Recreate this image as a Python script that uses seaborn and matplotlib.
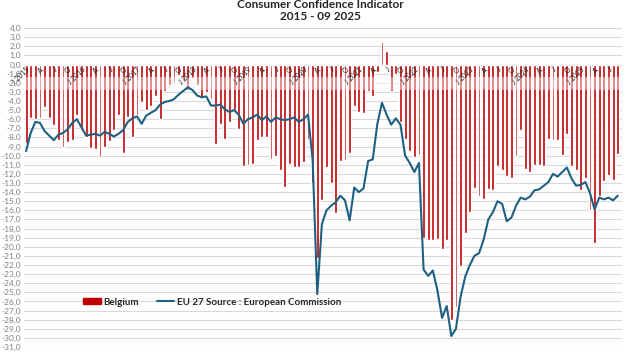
import numpy as np
import pandas as pd
import matplotlib
matplotlib.use("Agg")
import matplotlib.pyplot as plt
import seaborn as sns
from matplotlib.patches import Patch
from matplotlib.lines import Line2D

# Monthly series, Jan 2015 .. Sep 2025
months = pd.date_range("2015-01-01", "2025-09-01", freq="MS")

belgium = [
    -8.6, -5.9, -6.0, -5.9, -4.7, -5.9, -6.6, -8.3, -9.0, -8.5, -8.3, -5.5,
    -7.2, -8.0, -9.2, -9.3, -10.1, -9.0, -8.4, -7.2, -5.5, -9.7, -5.8, -8.0,
    -5.5, -4.1, -5.0, -4.5, -3.4, -6.0, -2.9, -2.3, -2.0, -1.2, -1.8, -2.8,
    -1.5, -2.3, -3.6, -3.0, -3.8, -8.7, -6.5, -8.2, -6.3, -5.0, -7.1, -11.1,
    -11.0, -10.9, -8.3, -8.0, -7.9, -10.4, -10.0, -11.6, -13.4, -10.9, -11.2, -11.3,
    -10.7, -8.2, -13.0, -21.2, -14.9, -11.2, -13.0, -16.3, -10.6, -10.5, -9.7, -4.6,
    -5.2, -5.3, -2.9, -3.4, -0.8, 2.5, 1.5, -2.9, -1.0, -6.3, -8.2, -9.5,
    -10.2, -9.9, -19.0, -19.3, -19.3, -19.2, -20.2, -19.3, -28.0, -26.6, -22.1, -18.5,
    -16.2, -13.5, -14.4, -14.8, -13.7, -13.8, -11.1, -11.6, -12.2, -12.4, -10.0, -7.2,
    -11.5, -11.8, -11.0, -11.0, -11.1, -8.2, -8.3, -8.3, -9.9, -7.6, -11.1, -11.6,
    -13.8, -12.5, -16.0, -19.6, -14.4, -12.8, -12.1, -12.7, -9.8,
]

eu27 = [
    -9.5, -7.5, -6.3, -6.4, -7.3, -7.8, -8.3, -7.7, -7.5, -7.1, -6.4, -6.0,
    -6.9, -7.8, -7.7, -7.6, -7.8, -7.4, -7.6, -7.9, -7.6, -7.2, -6.3, -5.9,
    -5.7, -6.5, -5.6, -5.3, -5.0, -4.4, -4.1, -4.0, -3.8, -3.3, -2.9, -2.5,
    -2.8, -3.4, -3.6, -3.5, -4.5, -4.5, -4.4, -4.9, -5.2, -5.0, -5.5, -6.5,
    -6.0, -5.8, -5.5, -6.1, -5.7, -6.3, -5.8, -6.0, -6.1, -6.0, -5.8, -6.3,
    -6.0, -5.5, -10.5, -25.2, -17.5, -16.0, -15.5, -15.1, -14.4, -14.9, -17.1, -13.5,
    -14.0, -13.6, -10.6, -10.4, -6.5, -4.2, -5.5, -6.6, -5.9, -6.6, -10.0, -10.8,
    -11.8, -10.8, -22.5, -23.2, -22.6, -24.8, -27.8, -26.5, -29.8, -29.0, -25.5, -23.3,
    -22.0, -21.0, -20.7, -19.2, -17.0, -16.2, -15.0, -15.3, -17.2, -16.8, -15.5, -14.6,
    -14.8, -14.5, -13.8, -13.7, -13.3, -12.9, -12.0, -12.3, -11.8, -11.3, -12.5, -13.3,
    -13.2, -12.9, -14.1, -15.9, -14.6, -14.8, -14.6, -14.9, -14.4,
]

month_letters = {1: "J", 4: "A", 7: "J", 10: "O"}

df = pd.DataFrame({"idx": np.arange(len(months)), "Belgium": belgium, "EU27": eu27})

RED = "#C00000"
BLUE = "#1F6082"

sns.set_style("white")
plt.rcParams["font.family"] = ["Lato", "DejaVu Sans"]

fig = plt.figure(figsize=(6.25, 3.52), dpi=100)
ax = fig.add_axes([0.0384, 0.0142, 0.9566, 0.906])

sns.barplot(data=df, x="idx", y="Belgium", native_scale=True, color=RED,
            saturation=1, width=0.62, ax=ax, zorder=2)
sns.lineplot(data=df, x="idx", y="EU27", color=BLUE, lw=1.5, ax=ax, zorder=6)

# light band behind the month labels
ax.axhspan(-2.75, -1.4, color="white", alpha=0.45, lw=0, zorder=3)

for i, d in enumerate(months):
    if d.month in month_letters:
        lab = month_letters[d.month]
        if d.month == 1:
            lab = f"J {d.year}"
        ax.text(i, -0.15, lab, rotation=45, ha="right", va="top",
                rotation_mode="anchor", fontsize=5, color="#222222", zorder=5)

ax.set_xlim(-0.45, 128.9)
ax.set_ylim(-31, 4)
yt = np.arange(-31, 5, 1)
ax.set_yticks(yt)
ax.set_yticklabels([f"{v:.1f}".replace(".", ",") for v in yt],
                   fontsize=6, color="#808080")
ax.tick_params(axis="y", length=0, pad=2)
ax.set_xticks([])
ax.set_xlabel("")
ax.set_ylabel("")
ax.yaxis.grid(True, color="#D9D9D9", lw=0.8)
ax.set_axisbelow(True)
for s in ax.spines.values():
    s.set_visible(False)

handles = [Patch(color=RED), Line2D([], [], color=BLUE, lw=1.5)]
ax.legend(handles, ["Belgium", "EU 27 Source : European Commission"],
          loc="center", bbox_to_anchor=(0.315, 0.141), ncol=2, frameon=False,
          prop={"weight": "bold", "size": 7}, handlelength=1.8,
          handleheight=0.6, columnspacing=1.8, handletextpad=0.3)

fig.text(0.512, 1 - 4 / 352, "Consumer Confidence Indicator", ha="center",
         va="center", fontsize=8.5, fontweight="bold")
fig.text(0.512, 1 - 16 / 352, "2015 - 09 2025", ha="center", va="center",
         fontsize=8.5, fontweight="bold")

fig.savefig("out.png", dpi=100)
